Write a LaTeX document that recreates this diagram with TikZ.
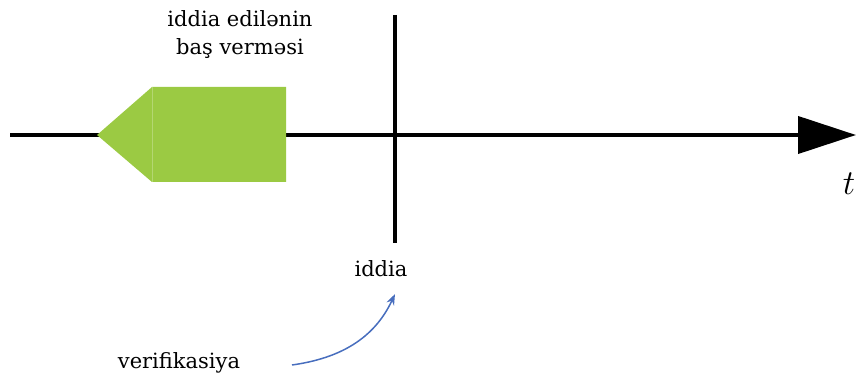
\RequirePackage{fix-cm}
\documentclass[tikz,border=0pt]{standalone}
\usepackage{fontspec}
\setmainfont{DejaVu Serif}
\usetikzlibrary{arrows.meta}
\definecolor{evgreen}{RGB}{155,202,67}
\definecolor{vblue}{RGB}{72,110,190}
\begin{document}
\begin{tikzpicture}[x=1pt,y=-1pt,font=\fontsize{21}{28}\selectfont]
    \tikzset{lbl/.style={inner sep=0pt, align=center, anchor=base}}
    \useasboundingbox (0,0) rectangle (857,379);
    % time axis and the claim line
    \coordinate (t0) at (10,135);
    \coordinate (t1) at (856,135);
    \draw[line width=4pt, -{Triangle[length=58pt,width=37pt]}] (t0) -- (t1);
    \coordinate (c0) at (395,15);
    \coordinate (c1) at (395,243);
    % event block
    \fill[evgreen] (97,135) -- (152,87) -- (286,87) -- (286,182) -- (152,182) -- cycle;
    \draw[evgreen!75!white, line width=0.8pt] (152,87) -- (152,182);
    \draw[line width=4pt] (c0) -- (c1);
    \node[lbl] (event) at (240,55) {iddia edilənin\\baş verməsi};
    \node[lbl, font=\fontsize{35}{35}\selectfont] (tlbl) at (849,195) {$t$};
    \node[lbl] (claim) at (381,277) {iddia};
    \node[lbl] (verif) at (179,368) {verifikasiya};
    \coordinate (vfrom) at (292,365);
    \coordinate (vto) at (395,294);
    \draw[vblue, line width=1.5pt, -{Stealth[length=11pt,width=8pt]}] (vfrom) to[out=8,in=-115] (vto);
\end{tikzpicture}
\end{document}
